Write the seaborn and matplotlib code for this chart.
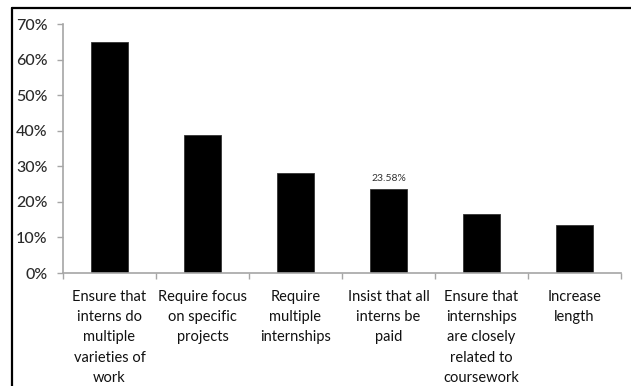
import matplotlib
matplotlib.use("Agg")
import matplotlib.pyplot as plt
from matplotlib.lines import Line2D
from matplotlib.ticker import PercentFormatter, FixedLocator
import seaborn as sns
import pandas as pd

categories = [
    "Ensure that\ninterns do\nmultiple\nvarieties of\nwork",
    "Require focus\non specific\nprojects",
    "Require\nmultiple\ninternships",
    "Insist that all\ninterns be\npaid",
    "Ensure that\ninternships\nare closely\nrelated to\ncoursework",
    "Increase\nlength",
]
shares = [0.65, 0.387, 0.282, 0.2358, 0.165, 0.134]
labelled_index = 3

sns.set_theme(style="white")
plt.rcParams["font.family"] = ["Lato", "DejaVu Sans"]

df = pd.DataFrame({"category": categories, "share": shares})

fig = plt.figure(figsize=(6.31, 3.86), dpi=100)
ax = fig.add_axes([0.0998, 0.2927, 0.8842, 0.6451])

sns.barplot(data=df, x="category", y="share", color="black",
            saturation=1, width=0.4, ax=ax, edgecolor="#333333", linewidth=0.6)

ax.set_ylim(0, 0.7)
ax.set_xlim(-0.5, len(categories) - 0.5)
ax.yaxis.set_major_formatter(PercentFormatter(1.0, decimals=0))
ax.set_yticks([i / 10 for i in range(8)])
ax.set_xlabel("")
ax.set_ylabel("")

axis_grey = "#a6a6a6"
for side in ["top", "right"]:
    ax.spines[side].set_visible(False)
for side in ["left", "bottom"]:
    ax.spines[side].set_color(axis_grey)
    ax.spines[side].set_linewidth(1.2)

ax.tick_params(axis="y", which="major", direction="out", length=4, width=1,
               color=axis_grey, labelsize=11.5, labelcolor="#2a2a2a", pad=7,
               left=True)
for lbl in ax.get_yticklabels():
    lbl.set_fontweight("medium")
ax.tick_params(axis="x", which="major", length=0, labelsize=10.5,
               labelcolor="#111111", pad=12)
ax.xaxis.set_minor_locator(FixedLocator([i - 0.5 for i in range(len(categories) + 1)]))
ax.tick_params(axis="x", which="minor", direction="out", length=4, width=1,
               color=axis_grey, bottom=True)
for lbl in ax.get_xticklabels():
    lbl.set_linespacing(1.58)
    lbl.set_verticalalignment("top")

ax.text(labelled_index, shares[labelled_index] + 0.018,
        f"{shares[labelled_index] * 100:.2f}%", ha="center", va="bottom",
        fontsize=7.5, color="#333333")

# outer frame (top and left edges)
fig.add_artist(Line2D([0.019, 1.0], [0.980, 0.980], transform=fig.transFigure,
                      color="black", linewidth=1.6))
fig.add_artist(Line2D([0.019, 0.019], [0.0, 0.980], transform=fig.transFigure,
                      color="black", linewidth=1.6))

fig.savefig("out.png", dpi=100)
